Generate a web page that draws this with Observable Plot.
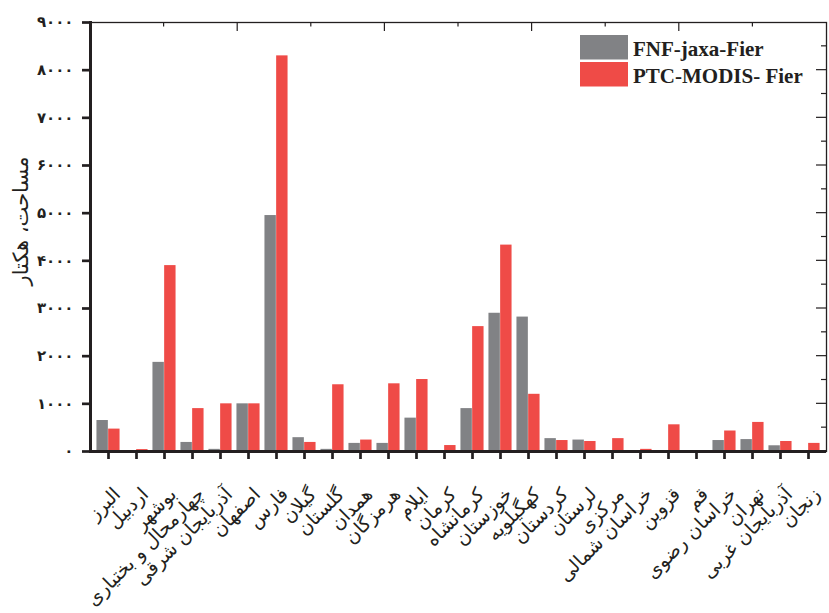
<!DOCTYPE html>
<html><head><meta charset="utf-8">
<script src="https://cdn.jsdelivr.net/npm/d3@7"></script>
<script src="https://cdn.jsdelivr.net/npm/@observablehq/plot@0.6"></script>
<style>body{margin:0;background:#fff} #chart{position:relative;width:829px;height:613px}</style>
</head><body><div id="chart"></div>
<script>
const provinces = ["البرز","اردبیل","بوشهر","چهارمحال و بختیاری","آذربایجان شرقی","اصفهان","فارس","گیلان","گلستان","همدان","هرمزگان","ایلام","کرمان","کرمانشاه","خوزستان","کهگیلویه","کردستان","لرستان","مرکزی","خراسان شمالی","قزوین","قم","خراسان رضوی","تهران","آذربایجان غربی","زنجان"];
const fnf = [650, 0, 1870, 190, 45, 1000, 4950, 290, 45, 170, 170, 700, 0, 900, 2900, 2820, 270, 240, 0, 0, 0, 0, 230, 250, 120, 0];
const ptc = [470, 40, 3900, 900, 1000, 1000, 8300, 190, 1400, 240, 1420, 1510, 125, 2620, 4330, 1200, 230, 210, 270, 45, 560, 15, 430, 610, 210, 170];
const series = ["FNF-jaxa-Fier", "PTC-MODIS- Fier"];
const colors = ["#818285", "#ef4b47"];
const yTicks = d3.range(0, 9001, 1000);
const yLabel = "مساحت، هکتار";
const fa = n => String(n).replace(/\d/g, c => "۰۱۲۳۴۵۶۷۸۹"[+c]);

const rows = provinces.map((p, i) => ({p, fnf: fnf[i], ptc: ptc[i]}));
const ink = "#231f20";
const plot = Plot.plot({
  width: 829, height: 613,
  marginLeft: 90, marginRight: 3, marginTop: 22, marginBottom: 162,
  style: {fontFamily: "DejaVu Sans", background: "#fff", overflow: "visible"},
  x: {domain: provinces, padding: 0},
  y: {domain: [0, 9000]},
  marks: [
    Plot.barY(rows, {x: "p", y: "fnf", fill: colors[0], insetLeft: 2.45, insetRight: 14.15}),
    Plot.barY(rows, {x: "p", y: "ptc", fill: colors[1], insetLeft: 14.15, insetRight: 2.45}),
    Plot.frame({stroke: ink, strokeWidth: 1.3}),
    Plot.frame({anchor: "left", stroke: ink, strokeWidth: 3}),
    Plot.ruleY([0], {stroke: ink, strokeWidth: 3}),
    Plot.axisY({ticks: yTicks, tickFormat: fa, tickSize: 8, tickPadding: 9, strokeWidth: 2.7, stroke: ink, fill: ink, fontSize: 15, fontWeight: "bold", label: null}),
    Plot.axisX({tickSize: 8, strokeWidth: 2.7, stroke: ink, tickFormat: () => "", label: null}),
    Plot.text(provinces, {x: d => d, frameAnchor: "bottom", rotate: -45, textAnchor: "start", dx: 13, dy: 44, fontSize: 19, fill: ink, className: "rtl-label"}),
    Plot.text([yLabel], {frameAnchor: "left", rotate: -90, textAnchor: "middle", dx: -69, dy: -16, fontSize: 21, fill: ink, className: "rtl-label"})
  ]
});
document.getElementById("chart").appendChild(plot);

const svgSel = d3.select(plot);
// Persian labels: right-to-left so the anchor is the visual right edge
svgSel.selectAll(".rtl-label text").attr("direction", "rtl").style("direction", "rtl");

// inner ticks on top and right frame edges, from the plot's scales
const xr = plot.scale("x").range;
const ys = plot.scale("y");
const yTop = ys.apply(9000), xRight = xr[1];
const tg = svgSel.append("g").attr("stroke", ink).attr("stroke-width", 1.2);
const tx = d3.scaleLinear().domain([0, 10]).range(xr);
d3.range(1, 10).forEach(i => {
  tg.append("line").attr("x1", tx(i)).attr("x2", tx(i)).attr("y1", yTop).attr("y2", yTop + (i % 2 === 0 ? 9 : 4.5));
});
d3.range(500, 9000, 500).forEach(v => {
  tg.append("line").attr("x1", xRight).attr("x2", xRight - (v % 1000 === 0 ? 10 : 5)).attr("y1", ys.apply(v)).attr("y2", ys.apply(v));
});

// legend
const lg = svgSel.append("g").attr("font-family", "Liberation Serif, Times New Roman, serif").attr("font-weight", "bold").attr("font-size", 21).attr("fill", ink).attr("text-anchor", "start");
series.forEach((s, i) => {
  lg.append("rect").attr("x", 580).attr("y", 35 + i * 27).attr("width", 48).attr("height", 24.5).attr("fill", colors[i]);
  lg.append("text").attr("x", 633).attr("y", 56 + i * 27.3).text(s);
});
</script>
</body></html>
